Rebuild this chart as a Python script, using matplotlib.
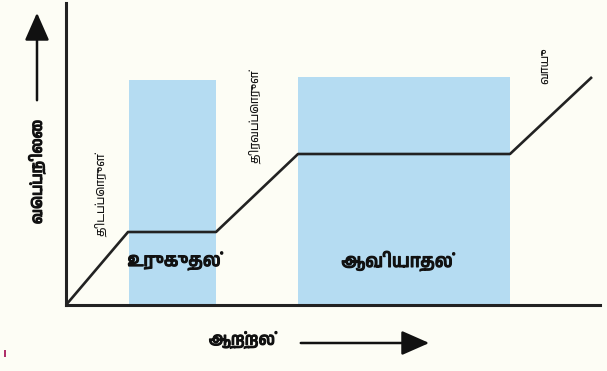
import matplotlib
matplotlib.use("Agg")
import matplotlib.pyplot as plt
import matplotlib.patheffects as pe
from matplotlib.patches import Rectangle

# heating curve: energy (x) vs temperature (y), arbitrary units
energy = [0, 62, 150, 232, 444, 526]
temperature = [0, 73, 73, 151, 151, 228]
# plateaus shaded: (start, end, top)
bands = [(63, 150, 225), (232, 444, 228)]
band_labels = ["உருகுதல்", "ஆவியாதல்"]
phase_labels = ["திடப்பொருள்", "திரவப்பொருள்", "வாயு"]
xlabel = "ஆற்றல்"
ylabel = "வெப்பநிலை"

plt.rcParams["font.family"] = ["Anek Tamil", "Noto Sans Tamil", "DejaVu Sans"]

BG = "#fdfdf5"
BLUE = "#b5dcf2"
INK = "#222222"
TXT = "#111111"
# fake a heavier weight, the variable font only draws its default instance
heavy = [pe.withStroke(linewidth=0.9, foreground=TXT)]

W, H = 607, 371
fig = plt.figure(figsize=(W / 100, H / 100), dpi=100, facecolor=BG)
ax = fig.add_axes([66 / W, 66 / H, 534 / W, 302 / H])
ax.set_facecolor(BG)
ax.set_xlim(0, 534)
ax.set_ylim(0, 302)
for s in ["top", "right"]:
    ax.spines[s].set_visible(False)
for s in ["left", "bottom"]:
    ax.spines[s].set_linewidth(2.2)
    ax.spines[s].set_color(INK)
ax.set_xticks([])
ax.set_yticks([])

label_x = [108, 331]
for (x0, x1, top), lab, lx in zip(bands, band_labels, label_x):
    ax.add_patch(Rectangle((x0, 0), x1 - x0, top, facecolor=BLUE, edgecolor="none", zorder=1))
    ax.text(lx, 44, lab, ha="center", va="center", fontsize=13,
            color=TXT, zorder=3, path_effects=heavy)

ax.plot(energy, temperature, color=INK, lw=1.9, zorder=2, solid_capstyle="butt")

ax.text(35, 110, phase_labels[0], rotation=90, ha="center", va="center", fontsize=8.5, color=TXT)
ax.text(189, 188, phase_labels[1], rotation=90, ha="center", va="center", fontsize=8.5, color=TXT)
ax.text(479, 239, phase_labels[2], rotation=90, ha="center", va="center", fontsize=8.5, color=TXT)

# axis labels with arrows
fig.text(37 / W, 1 - 172 / H, ylabel, rotation=90, ha="center", va="center",
         fontsize=11, color=TXT, path_effects=heavy)
fig.text(242 / W, 1 - 340 / H, xlabel, ha="center", va="center",
         fontsize=12, color=TXT, path_effects=heavy)
arrow = dict(arrowstyle="-|>,head_length=1.7,head_width=0.75", color=TXT, lw=1.8)
ax.annotate("", xy=(37, H - 10), xytext=(37, H - 103), xycoords="figure pixels",
            textcoords="figure pixels", arrowprops=arrow, annotation_clip=False)
ax.annotate("", xy=(432, H - 343), xytext=(298, H - 343), xycoords="figure pixels",
            textcoords="figure pixels", arrowprops=arrow, annotation_clip=False)

# small mark in the bottom-left corner
fig.patches.append(Rectangle((4, H - 357), 2, 7, transform=None, facecolor="#b0306a",
                             edgecolor="none"))

fig.savefig("out.png", dpi=100, facecolor=BG)
